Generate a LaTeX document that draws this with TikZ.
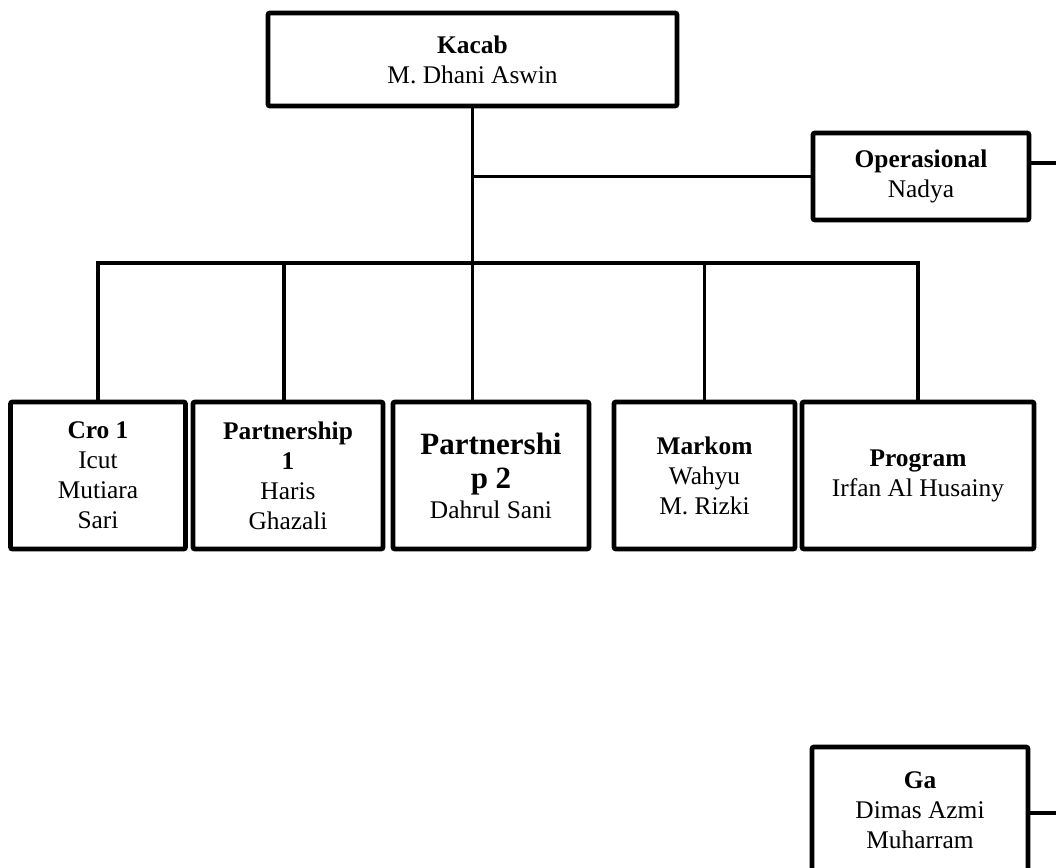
\documentclass[tikz,border=0pt]{standalone}
\usepackage{fontspec}
\setmainfont{Liberation Serif}
\newcommand{\bigtitle}[1]{{\fontsize{15.5}{18}\selectfont\textbf{#1}}}
\begin{document}
\begin{tikzpicture}[x=0.5pt, y=-0.5pt,
  box/.style 2 args={draw, line width=2.4pt, rounded corners=1pt, align=center, inner sep=0pt,
    minimum width=#1*0.5pt, minimum height=#2*0.5pt,
    font=\fontsize{12.7}{15}\selectfont},
  link/.style={line width=1.6pt}]
\useasboundingbox (0,0) rectangle (1056,868);

% head
\node[box={409}{93}] (kacab) at (472.5,59.5)
  {\textbf{Kacab}\\M. Dhani Aswin};
\node[box={216}{87}] (opr) at (921,176.5)
  {\textbf{Operasional}\\Nadya};

% divisions
\node[box={175}{147}] (cro) at (98,475.5)
  {\textbf{Cro 1}\\Icut\\Mutiara\\Sari};
\node[box={190}{147}] (pa1) at (288,475.5)
  {\textbf{Partnership}\\\textbf{1}\\Haris\\Ghazali};
\node[box={196}{147}] (pa2) at (491,475.5)
  {\bigtitle{Partnershi}\\[2pt]\bigtitle{p 2}\\Dahrul Sani};
\node[box={181}{147}] (markom) at (704.5,475.5)
  {\textbf{Markom}\\Wahyu\\M. Rizki};
\node[box={232}{147}] (program) at (918,475.5)
  {\textbf{Program}\\Irfan Al Husainy};

% ga (cut at the bottom)
\node[box={216}{126}] (ga) at (920,810)
  {\textbf{Ga}\\Dimas Azmi\\Muharram};

% connectors
\coordinate (bar) at (500,263);
\coordinate (oprend) at (1062,163);
\coordinate (gaend) at (1062,813);
\draw[link] (kacab.south) -- (kacab.south |- pa2.north);
\draw[link] (kacab.south |- opr.west) -- (opr.west);
\draw[link] (cro.north) |- (bar) -| (program.north);
\draw[link] ([xshift=-2]pa1.north) -- ([xshift=-2]pa1.north |- bar);
\draw[link] (markom.north) -- (markom.north |- bar);
\draw[link] (opr.east |- oprend) -- (oprend);
\draw[link] (ga.east |- gaend) -- (gaend);
\end{tikzpicture}
\end{document}
